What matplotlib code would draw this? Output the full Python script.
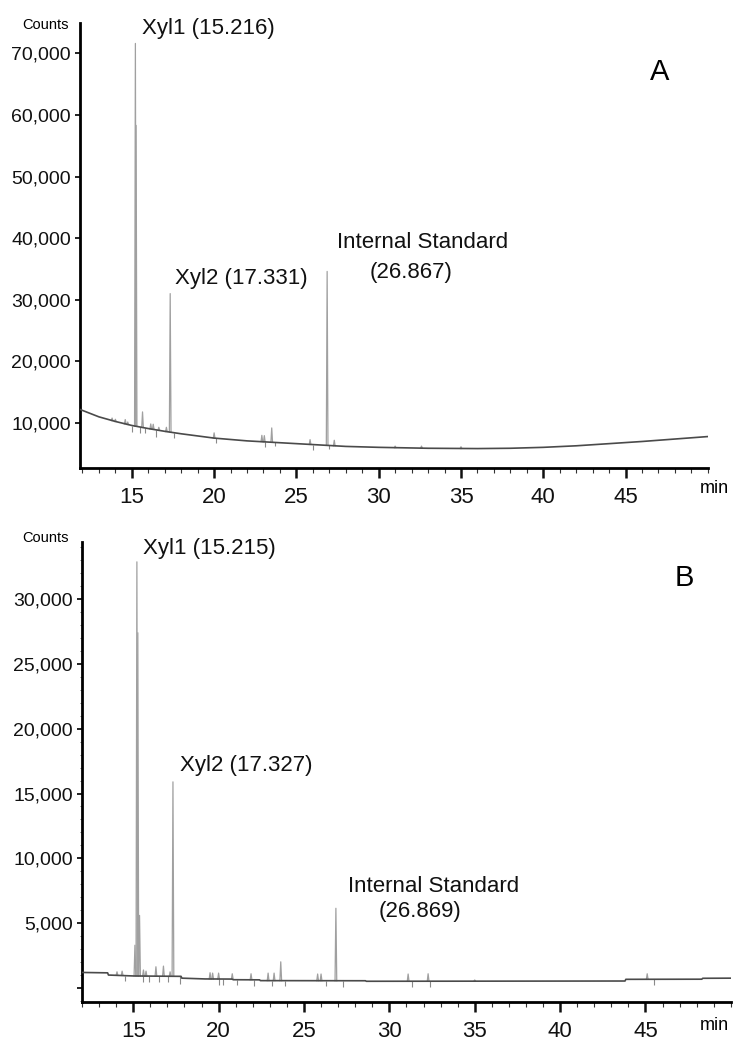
import matplotlib.pyplot as plt
from matplotlib.ticker import FixedLocator, MultipleLocator, FuncFormatter

plt.rcParams['font.family'] = ['Liberation Sans', 'DejaVu Sans']

#-------------------------------------------------------------------
#       data (time in min, counts)
#-------------------------------------------------------------------
# panel A
a_base_t = [11.85, 13, 14, 15, 16, 17, 18, 20, 22, 24, 26, 28, 30, 33, 36, 38, 40, 42, 44, 46, 48, 50]
a_base_y = [12200, 11000, 10250, 9600, 9100, 8650, 8250, 7550, 7100, 6800, 6500, 6200, 6050, 5900,
            5850, 5900, 6050, 6300, 6650, 7000, 7400, 7800]
a_peak_t = [13.8, 14.0, 14.6, 14.75, 15.216, 15.26, 15.65, 16.15, 16.3, 16.64, 17.1, 17.331,
            20.0, 22.9, 23.05, 23.5, 25.83, 26.867, 27.3, 31.0, 32.6, 35.0]
a_peak_top = [10800, 10600, 10560, 10160, 71600, 58300, 11800, 9850, 9800, 9300, 9300, 31000,
              8400, 8000, 7950, 9200, 7300, 34600, 7200, 6250, 6250, 6150]
a_peak_foot = [10400, 10250, 9860, 9760, 9490, 9470, 9275, 9030, 8965, 8810, 8610, 8520,
               7550, 6965, 6940, 6875, 6525, 6370, 6305, 6000, 5930, 5867]
a_dip_t = [14.98, 15.5, 15.8, 16.45, 17.55, 20.1, 23.1, 23.7, 26.0, 27.0]
a_dip_top = [9500, 9350, 9200, 8880, 8450, 7500, 6950, 6860, 6500, 6350]
a_dip_low = [8500, 8350, 8300, 7800, 7500, 6700, 6100, 6200, 5550, 5700]

# panel B
b_base_t = [12, 13.5, 13.55, 15, 17.8, 17.85, 19.2, 20.8, 20.85, 22.4, 22.45, 28.6, 28.65,
            43.8, 43.85, 48.3, 48.35, 50]
b_base_y = [1200, 1170, 1000, 930, 900, 760, 700, 690, 640, 630, 570, 560, 520,
            540, 670, 680, 750, 760]
b_peak_t = [14.05, 14.35, 15.1, 15.215, 15.27, 15.37, 15.6, 15.75, 16.33, 16.77, 17.16, 17.327,
            19.5, 19.65, 20.0, 20.8, 21.9, 22.9, 23.25, 23.64, 25.8, 26.0, 26.869,
            31.1, 32.27, 35.0, 45.1]
b_peak_top = [1250, 1300, 3300, 32870, 27400, 5600, 1390, 1300, 1640, 1690, 1250, 15900,
              1180, 1150, 1150, 1100, 1100, 1150, 1150, 2020, 1080, 1080, 6150,
              1080, 1100, 620, 1100]
b_peak_foot = [990, 975, 930, 930, 930, 925, 920, 915, 910, 905, 900, 900,
               700, 700, 695, 690, 635, 570, 570, 570, 565, 565, 565,
               525, 525, 525, 670]
b_dip_t = [14.53, 15.6, 15.95, 16.5, 17.05, 17.75, 20.0, 20.25, 21.1, 22.1, 23.1, 23.9,
           26.3, 27.3, 31.3, 32.4, 45.5]
b_dip_top = [960, 920, 915, 910, 905, 900, 695, 690, 635, 630, 570, 570,
             565, 560, 525, 525, 670]
b_dip_low = [520, 450, 470, 460, 450, 300, 250, 240, 200, 190, 130, 120,
             120, 110, 90, 90, 230]

# labels
a_labels = [("Xyl1 (15.216)", 15.6, 74050, 'left'),
            ("Xyl2 (17.331)", 17.6, 33420, 'left'),
            ("Internal Standard", 32.64, 39320, 'center'),
            ("(26.867)", 31.94, 34450, 'center')]
b_labels = [("Xyl1 (15.215)", 15.58, 33920, 'left'),
            ("Xyl2 (17.327)", 17.75, 17150, 'left'),
            ("Internal Standard", 32.6, 7850, 'center'),
            ("(26.869)", 31.8, 5870, 'center')]

BASE_C = '#4a4a4a'
PEAK_C = '#a0a0a0'
HW = 0.05


def draw_panel(ax, base_t, base_y, pk_t, pk_top, pk_foot, dp_t, dp_top, dp_low):
    ax.plot(base_t, base_y, color=BASE_C, lw=1.2, zorder=3)
    for t, top, foot in zip(pk_t, pk_top, pk_foot):
        ax.plot([t - HW, t, t + HW], [foot, top, foot], color=PEAK_C, lw=0.9, zorder=2)
    ax.vlines(dp_t, dp_low, dp_top, color='#8a8a8a', lw=0.8, zorder=2)
    for s in ['top', 'right']:
        ax.spines[s].set_visible(False)
    for s in ['left', 'bottom']:
        ax.spines[s].set_linewidth(2.0)
    ax.xaxis.set_major_locator(FixedLocator([15, 20, 25, 30, 35, 40, 45]))
    ax.xaxis.set_minor_locator(MultipleLocator(1))
    ax.tick_params(axis='x', which='major', length=7, width=1.8, labelsize=16, pad=7, colors='#111')
    ax.tick_params(axis='x', which='minor', length=3.5, width=0.8, colors='#333')
    ax.tick_params(axis='y', which='major', length=3.5, width=1.3, labelsize=14, pad=3, colors='#111')
    ax.tick_params(axis='y', which='minor', length=1.5, width=0.6, colors='#555')
    ax.yaxis.set_major_formatter(FuncFormatter(lambda v, p: '' if v == 0 else f'{int(v):,}'))


fig = plt.figure(figsize=(7.42, 10.5), dpi=100)

axA = fig.add_axes([0.1078, 0.5543, 0.8462, 0.4237])
draw_panel(axA, a_base_t, a_base_y, a_peak_t, a_peak_top, a_peak_foot, a_dip_t, a_dip_top, a_dip_low)
axA.set_xlim(11.85, 50)
axA.set_ylim(2700, 74900)
axA.yaxis.set_major_locator(FixedLocator([10000, 20000, 30000, 40000, 50000, 60000, 70000]))
for txt, x, y, ha in a_labels:
    axA.text(x, y, txt, ha=ha, va='center', fontsize=16, color='#111')
axA.text(-0.0175, 0.995, "Counts", transform=axA.transAxes, ha='right', va='center', fontsize=10.5)
axA.text(1.0096, -0.045, "min", transform=axA.transAxes, ha='center', va='center', fontsize=13)
axA.text(0.9236, 0.89, "A", transform=axA.transAxes, ha='center', va='center', fontsize=21)

axB = fig.add_axes([0.1105, 0.0457, 0.8745, 0.4381])
draw_panel(axB, b_base_t, b_base_y, b_peak_t, b_peak_top, b_peak_foot, b_dip_t, b_dip_top, b_dip_low)
axB.set_xlim(12, 50)
axB.set_ylim(-1080, 34400)
axB.yaxis.set_major_locator(FixedLocator([0, 5000, 10000, 15000, 20000, 25000, 30000]))
axB.yaxis.set_minor_locator(MultipleLocator(1000))
for txt, x, y, ha in b_labels:
    axB.text(x, y, txt, ha=ha, va='center', fontsize=16, color='#111')
axB.text(-0.02, 1.009, "Counts", transform=axB.transAxes, ha='right', va='center', fontsize=10.5)
axB.text(0.974, -0.05, "min", transform=axB.transAxes, ha='center', va='center', fontsize=13)
axB.text(0.929, 0.922, "B", transform=axB.transAxes, ha='center', va='center', fontsize=21)

fig.savefig('out.png', dpi=100)
